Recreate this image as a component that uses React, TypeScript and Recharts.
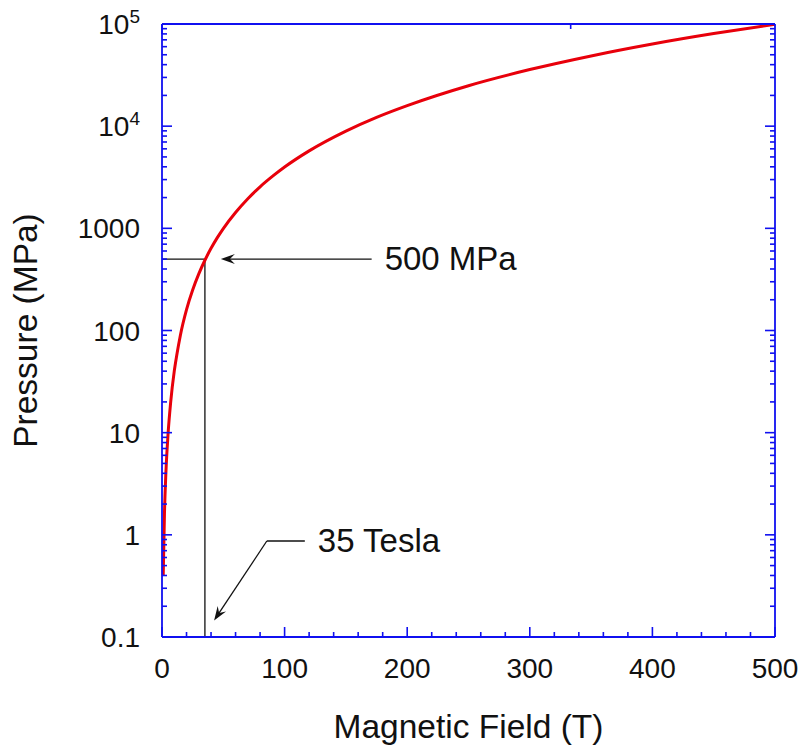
import React from 'react';
import { ComposedChart, Line, XAxis, YAxis, ReferenceLine } from 'recharts';

// campo magnético (T) e pressão magnética correspondente (MPa)
const fieldT = [1, 2, 3, 4, 5, 7, 10, 12, 15, 20, 25, 30, 35, 40, 45, 50, 60, 70, 80, 90, 100, 120, 150, 175, 200, 250, 300, 350, 400, 450, 500];
const pressureMPa = [0.4, 1.6, 3.6, 6.4, 10, 19.5, 40, 57, 90, 160, 249, 358, 487, 637, 806, 995, 1430, 1950, 2550, 3220, 3980, 5730, 8950, 12200, 15900, 24900, 35800, 48700, 63700, 80600, 99500];

const xTicks = [0, 20, 40, 60, 80, 100, 120, 140, 160, 180, 200, 220, 240, 260, 280, 300, 320, 340, 360, 380, 400, 420, 440, 460, 480, 500];
const xMajor = [0, 100, 200, 300, 400, 500];

const yMajor = [0.1, 1, 10, 100, 1000, 10000, 100000];
const yLabels = ['0.1', '1', '10', '100', '1000', '10^4', '10^5'];
const yTicks = [...yMajor];
yMajor.slice(0, -1).forEach((d) => {
  [2, 3, 4, 5, 6, 7, 8, 9].forEach((k) => yTicks.push(d * k));
});

// anotações (coordenadas em dados)
const markField = 35;
const markPressure = 500;
const mpaArrow = [{ x: 171, y: 500 }, { x: 48, y: 500 }];
const teslaLeader = [{ x: 116.5, y: 0.87 }, { x: 85.5, y: 0.87 }];
const teslaArrow = [{ x: 85.5, y: 0.87 }, { x: 42.5, y: 0.145 }];

const data = fieldT.map((b, i) => ({ b, p: pressureMPa[i] }));

const FONT = '"Liberation Sans", Arial, Helvetica, sans-serif';
const AXIS = '#1010f0';
const INK = '#111';

const BottomTick = (props: any) => {
  const { x, y, payload } = props;
  const major = xMajor.includes(payload.value);
  return (
    <g>
      <line x1={x} y1={y} x2={x} y2={y - (major ? 10 : 5)} stroke={AXIS} strokeWidth={1.6} />
      {major && (
        <text x={x} y={y + 41} textAnchor="middle" fontSize={28} fontFamily={FONT} fill={INK}>
          {payload.value}
        </text>
      )}
    </g>
  );
};

const TopTick = (props: any) => {
  const { x, y, payload } = props;
  const major = xMajor.includes(payload.value);
  return <line x1={x} y1={y} x2={x} y2={y + (major ? 10 : 5)} stroke={AXIS} strokeWidth={1.6} />;
};

const LeftTick = (props: any) => {
  const { x, y, payload } = props;
  const idx = yMajor.indexOf(payload.value);
  const major = idx >= 0;
  let label: React.ReactNode = null;
  if (major) {
    const txt = yLabels[idx];
    const parts = txt.split('^');
    label = (
      <text x={x - 22} y={y + 10} textAnchor="end" fontSize={28} fontFamily={FONT} fill={INK}>
        {parts[0]}
        {parts[1] && (
          <tspan dy={-11} fontSize={19}>
            {parts[1]}
          </tspan>
        )}
      </text>
    );
  }
  return (
    <g>
      <line x1={x} y1={y} x2={x + (major ? 10 : 5)} y2={y} stroke={AXIS} strokeWidth={1.6} />
      {label}
    </g>
  );
};

const RightTick = (props: any) => {
  const { x, y, payload } = props;
  const major = yMajor.includes(payload.value);
  return <line x1={x} y1={y} x2={x - (major ? 10 : 5)} y2={y} stroke={AXIS} strokeWidth={1.6} />;
};

const arrowShape = (text?: string, withHead = true) => (props: any) => {
  const { x1, y1, x2, y2 } = props;
  const ang = Math.atan2(y2 - y1, x2 - x1);
  const len = 14;
  const half = 5;
  const bx = x2 - len * Math.cos(ang);
  const by = y2 - len * Math.sin(ang);
  const nx = x2 - len * 0.65 * Math.cos(ang);
  const ny = y2 - len * 0.65 * Math.sin(ang);
  const px = -Math.sin(ang) * half;
  const py = Math.cos(ang) * half;
  return (
    <g>
      <line x1={x1} y1={y1} x2={withHead ? nx : x2} y2={withHead ? ny : y2} stroke={INK} strokeWidth={1.3} />
      {withHead && (
        <polygon
          points={`${x2},${y2} ${bx + px},${by + py} ${nx},${ny} ${bx - px},${by - py}`}
          fill={INK}
        />
      )}
      {text && (
        <text x={x1 + 13} y={y1 + 11} fontSize={33} fontFamily={FONT} fill={INK}>
          {text}
        </text>
      )}
    </g>
  );
};

const XTitle = (props: any) => {
  const vb = props.viewBox || {};
  return (
    <text x={vb.x + vb.width / 2} y={vb.y + 101} textAnchor="middle" fontSize={33.5} fontFamily={FONT} fill={INK}>
      Magnetic Field (T)
    </text>
  );
};

const YTitle = (props: any) => {
  const vb = props.viewBox || {};
  const cy = vb.y + vb.height / 2;
  return (
    <text x={37} y={cy} transform={`rotate(-90, 37, ${cy})`} textAnchor="middle" fontSize={33.5} fontFamily={FONT} fill={INK}>
      Pressure (MPa)
    </text>
  );
};

const App: React.FC = () => {
  return (
    <div style={{ position: 'absolute', left: 0, top: 0, background: '#fff' }}>
      <ComposedChart width={803} height={746} data={data} margin={{ top: 20, right: 20, left: 62, bottom: 49 }}>
        <XAxis
          dataKey="b"
          type="number"
          domain={[0, 500]}
          ticks={xTicks}
          interval={0}
          tickSize={0}
          tickMargin={0}
          height={60}
          axisLine={{ stroke: AXIS, strokeWidth: 1.8 }}
          tickLine={false}
          tick={BottomTick}
          label={XTitle}
        />
        <XAxis
          xAxisId="top"
          orientation="top"
          type="number"
          domain={[0, 500]}
          ticks={xTicks}
          interval={0}
          tickSize={0}
          tickMargin={0}
          height={4}
          axisLine={{ stroke: AXIS, strokeWidth: 1.8 }}
          tickLine={false}
          tick={TopTick}
        />
        <YAxis
          type="number"
          scale="log"
          domain={[0.1, 100000]}
          allowDataOverflow
          ticks={yTicks}
          interval={0}
          tickSize={0}
          tickMargin={0}
          width={100}
          axisLine={{ stroke: AXIS, strokeWidth: 1.8 }}
          tickLine={false}
          tick={LeftTick}
          label={YTitle}
        />
        <YAxis
          yAxisId="right"
          orientation="right"
          type="number"
          scale="log"
          domain={[0.1, 100000]}
          allowDataOverflow
          ticks={yTicks}
          interval={0}
          tickSize={0}
          tickMargin={0}
          width={8}
          axisLine={{ stroke: AXIS, strokeWidth: 1.8 }}
          tickLine={false}
          tick={RightTick}
        />
        <ReferenceLine
          segment={[{ x: markField, y: 0.1 }, { x: markField, y: markPressure }]}
          stroke={INK}
          strokeWidth={1.3}
        />
        <ReferenceLine
          segment={[{ x: 0, y: markPressure }, { x: markField, y: markPressure }]}
          stroke={INK}
          strokeWidth={1.3}
        />
        <ReferenceLine segment={mpaArrow} shape={arrowShape('500 MPa')} />
        <ReferenceLine segment={teslaLeader} shape={arrowShape('35 Tesla', false)} />
        <ReferenceLine segment={teslaArrow} shape={arrowShape(undefined, true)} />
        <Line
          type="monotone"
          dataKey="p"
          stroke="#e8000b"
          strokeWidth={3}
          dot={false}
          isAnimationActive={false}
        />
      </ComposedChart>
    </div>
  );
};

export default App;
